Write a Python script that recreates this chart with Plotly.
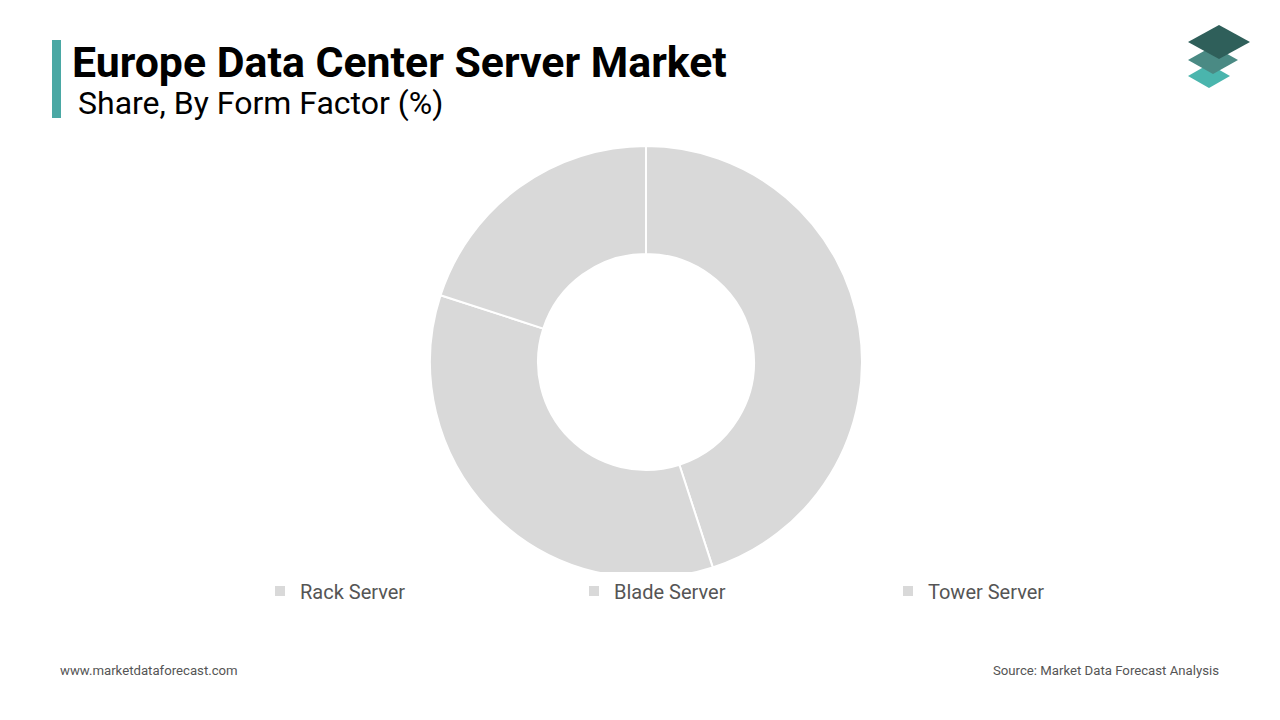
import plotly.graph_objects as go

categories = ["Rack Server", "Blade Server", "Tower Server"]
shares = [45, 35, 20]

W, H = 1280, 720
OFF = 8
def px(x): return (x - OFF) / W
def py(y): return 1 - (y - OFF) / H

fig = go.Figure(go.Pie(
    labels=categories, values=shares, hole=0.5, sort=False, direction="clockwise",
    rotation=0, textinfo="none", hoverinfo="label+percent",
    marker=dict(colors=["#d9d9d9"] * 3, line=dict(color="white", width=2)),
    domain=dict(x=[0, 2 * px(646)], y=[py(578), py(146)]),
))

shapes = [dict(type="rect", xref="paper", yref="paper", x0=px(52), x1=px(61), y0=py(118), y1=py(40),
               fillcolor="#4aa8a4", line=dict(width=0))]
def diamond(cx, cy, w, h, color):
    pts = [(cx, cy - h), (cx + w, cy), (cx, cy + h), (cx - w, cy)]
    path = "M " + " L ".join(f"{px(x)},{py(y)}" for x, y in pts) + " Z"
    return dict(type="path", xref="paper", yref="paper", path=path, fillcolor=color, line=dict(width=0))
shapes += [diamond(1209, 76, 21, 12, "#4ab5ad"), diamond(1213, 60, 25, 14, "#4a8a84"), diamond(1219, 42, 31, 17, "#2f5f5a")]

ann = [
    dict(text="<b>Europe Data Center Server Market</b>", x=px(70), y=py(62), xanchor="left", yanchor="middle",
         font=dict(size=42.8, color="black", family="Roboto")),
    dict(text="Share, By Form Factor (%)", x=px(76), y=py(103), xanchor="left", yanchor="middle",
         font=dict(size=32, color="black", family="Roboto")),
    dict(text="www.marketdataforecast.com", x=px(58), y=py(670), xanchor="left", yanchor="middle",
         font=dict(size=13.2, color="#555", family="Roboto")),
    dict(text="Source: Market Data Forecast Analysis", x=px(1221), y=py(670), xanchor="right", yanchor="middle",
         font=dict(size=13.2, color="#555", family="Roboto")),
]
for a in ann:
    a.update(xref="paper", yref="paper", showarrow=False)

fig.update_layout(
    width=W, height=H, margin=dict(l=0, r=0, t=0, b=0), paper_bgcolor="white",
    shapes=shapes, annotations=ann,
    legend=dict(orientation="h", x=px(260), xanchor="left", y=py(591), yanchor="middle",
                entrywidth=269, font=dict(size=20, color="#555", family="Roboto")),
)
fig.write_html("out.html")
